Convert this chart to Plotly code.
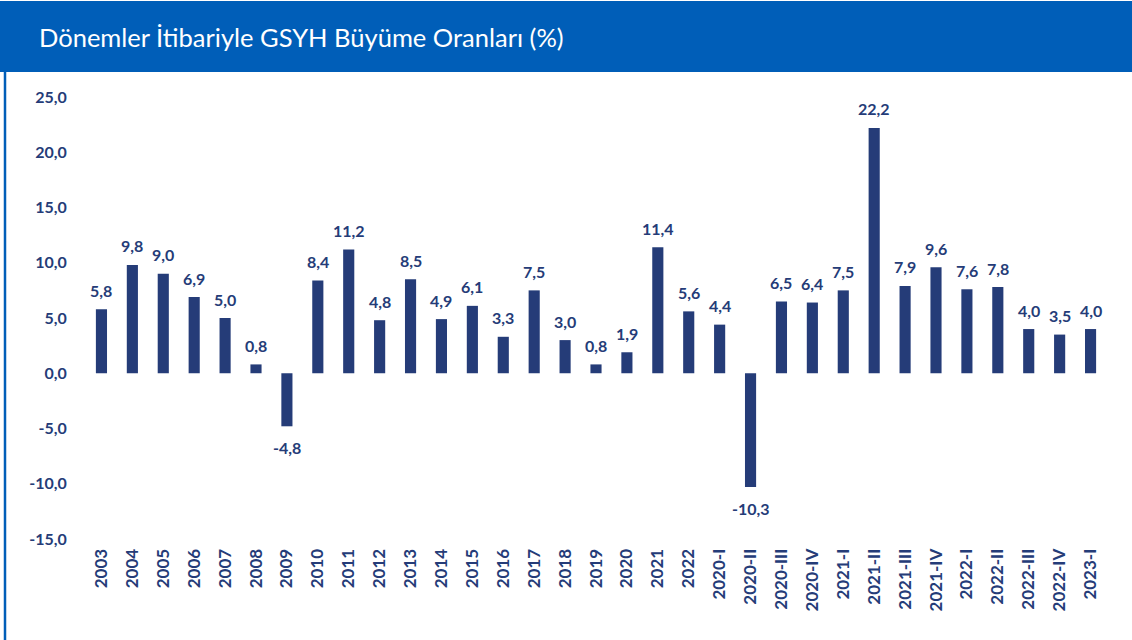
import plotly.graph_objects as go

categories = ["2003", "2004", "2005", "2006", "2007", "2008", "2009", "2010", "2011", "2012",
              "2013", "2014", "2015", "2016", "2017", "2018", "2019", "2020", "2021", "2022",
              "2020-I", "2020-II", "2020-III", "2020-IV", "2021-I", "2021-II", "2021-III",
              "2021-IV", "2022-I", "2022-II", "2022-III", "2022-IV", "2023-I"]
growth = [5.8, 9.8, 9.0, 6.9, 5.0, 0.8, -4.8, 8.4, 11.2, 4.8,
          8.5, 4.9, 6.1, 3.3, 7.5, 3.0, 0.8, 1.9, 11.4, 5.6,
          4.4, -10.3, 6.5, 6.4, 7.5, 22.2, 7.9,
          9.6, 7.6, 7.8, 4.0, 3.5, 4.0]
y_ticks = [-15, -10, -5, 0, 5, 10, 15, 20, 25]
title_text = "Dönemler İtibariyle GSYH Büyüme Oranları (%)"


def fmt(v):
    return f"{v:.1f}".replace(".", ",")


value_labels = [fmt(v) for v in growth]
y_tick_labels = [fmt(v) for v in y_ticks]

W, H = 1132, 640
L, R, T, B = 86, 1106, 97, 539
navy = "#253C78"
blue = "#005EB8"
font_fam = "Lato, 'Open Sans', sans-serif"


def px_x(p):
    return (p - L) / (R - L)


def px_y(p):
    return (B - p) / (B - T)


fig = go.Figure(go.Bar(
    x=categories, y=growth,
    marker=dict(color=navy, line=dict(width=0)),
    width=0.36,
    hoverinfo="x+y",
))

# category axis positions are indices 0..n-1
value_annotations = [
    dict(x=i, y=v, xref="x", yref="y", text=t, showarrow=False,
         xanchor="center", yanchor="middle",
         yshift=19 if v >= 0 else -21,
         font=dict(family=font_fam, size=16, color=navy, weight="bold"))
    for i, (v, t) in enumerate(zip(growth, value_labels))
]

fig.update_layout(
    width=W, height=H,
    margin=dict(l=L, r=W - R, t=T, b=H - B, autoexpand=False),
    paper_bgcolor="white", plot_bgcolor="white",
    showlegend=False,
    font=dict(family=font_fam, color=navy),
    shapes=[
        dict(type="rect", xref="paper", yref="paper",
             x0=px_x(0), x1=px_x(W), y0=px_y(72), y1=px_y(1),
             fillcolor=blue, line=dict(width=0), layer="below"),
        dict(type="line", xref="paper", yref="paper",
             x0=px_x(5), x1=px_x(5), y0=px_y(72), y1=px_y(H),
             line=dict(color=blue, width=2.5)),
    ],
    annotations=[
        dict(text=title_text, xref="paper", yref="paper",
             x=px_x(37), y=px_y(37), xanchor="left", yanchor="middle",
             showarrow=False,
             font=dict(family=font_fam, size=25.5, color="white")),
    ] + value_annotations,
)

fig.update_xaxes(
    type="category", tickangle=-90,
    range=[-0.5, len(categories) - 0.5],
    showgrid=False, zeroline=False, showline=False,
    ticks="outside", ticklen=2, tickcolor="rgba(0,0,0,0)",
    tickfont=dict(family=font_fam, size=17, color=navy, weight="bold"),
    automargin=False,
)
fig.update_yaxes(
    range=[-15, 25], tickvals=y_ticks, ticktext=y_tick_labels,
    showgrid=False, zeroline=False, showline=False,
    ticks="outside", ticklen=15, tickcolor="rgba(0,0,0,0)",
    tickfont=dict(family=font_fam, size=16, color=navy, weight="bold"),
    automargin=False,
)

fig.write_html("out.html", config={"displayModeBar": False},
               post_script="document.body.style.margin='0';")
